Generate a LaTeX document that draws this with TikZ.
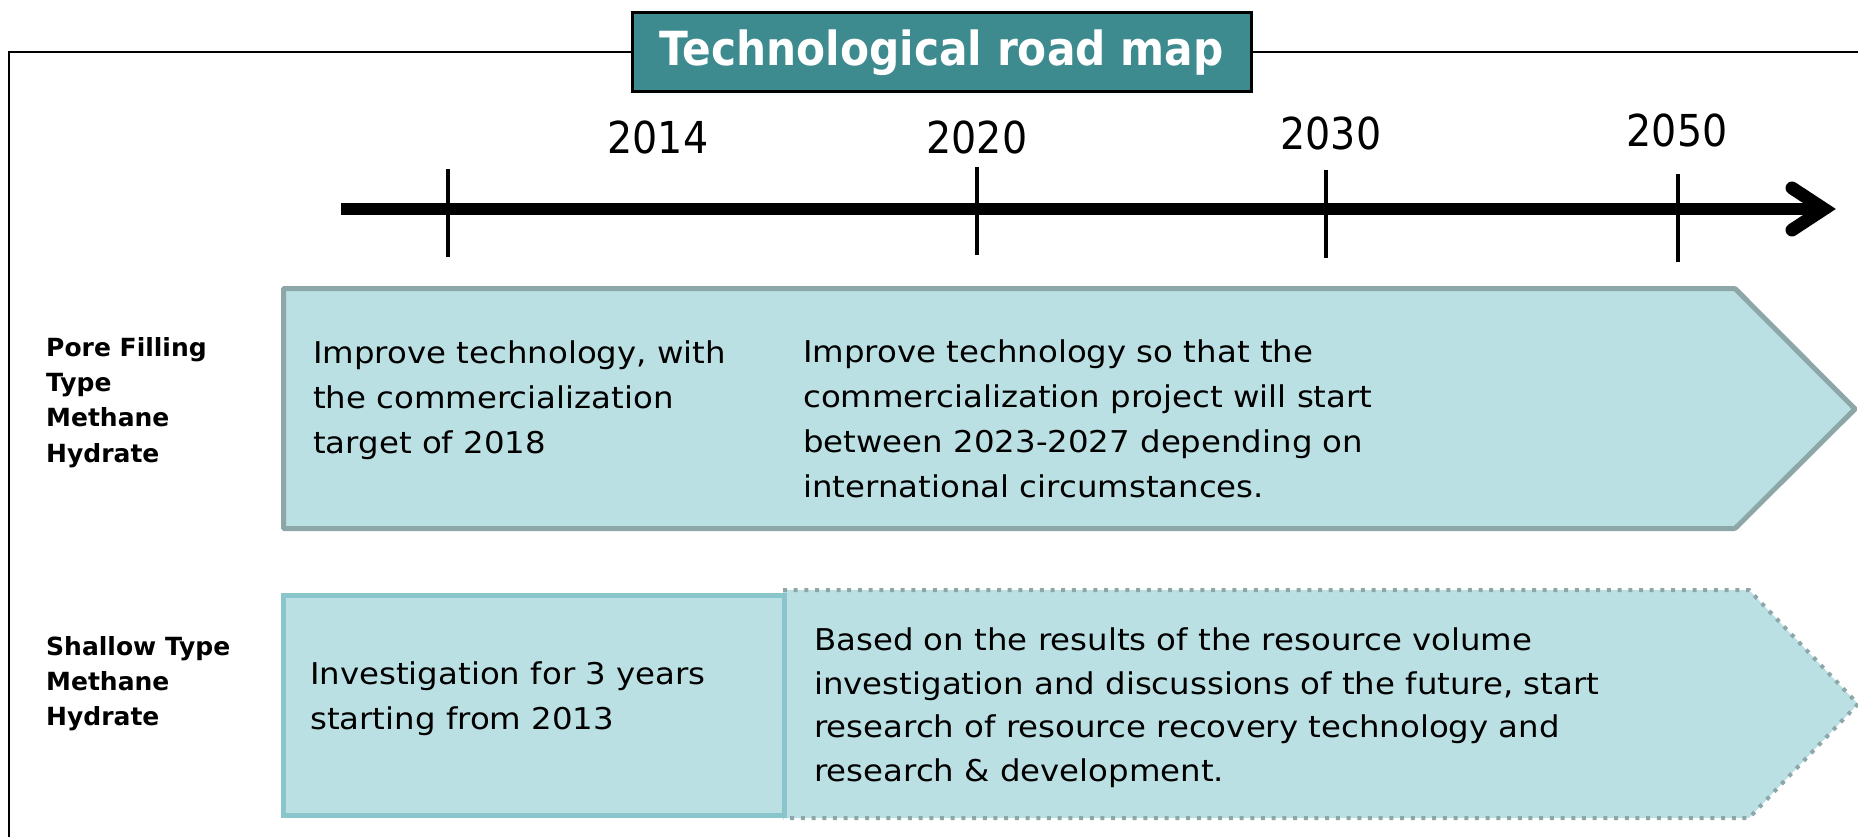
\documentclass[tikz,border=0pt]{standalone}
\usepackage{fontspec}
\setmainfont{DejaVu Sans}
\newfontfamily\wideface[FakeStretch=1.08]{DejaVu Sans}
\newfontfamily\narrowface[FakeStretch=0.9]{DejaVu Sans}
\definecolor{mapfill}{HTML}{BBE0E3}
\definecolor{mapedge}{HTML}{8DA7A9}
\definecolor{boxedge}{HTML}{8BC5CC}
\definecolor{titlefill}{HTML}{3E8B8F}
\newcommand{\bodytext}{\wideface\fontsize{30}{45}\selectfont}
\newcommand{\rowlabel}{\bfseries\fontsize{25}{35.3}\selectfont}

\begin{document}
\begin{tikzpicture}[x=1pt, y=-1pt,
    body/.style={anchor=north west, inner sep=0pt, align=left, font=\bodytext},
    rowname/.style={anchor=north west, inner sep=0pt, align=left, font=\rowlabel},
    yearlabel/.style={inner sep=0pt, font=\narrowface\fontsize{44}{44}\selectfont}]
        \useasboundingbox (0,0) rectangle (1858,837);

        % Frame and title
        \coordinate (frameBL) at (9,837);
        \coordinate (frameTL) at (9,52);
        \coordinate (frameTR) at (1858,52);
        \draw[line width=1.5pt] (frameBL) -- (frameTL) -- (frameTR);
        \node[draw=black, line width=3pt, fill=titlefill, text=white,
              minimum width=619pt, minimum height=79pt, inner sep=0pt,
              font=\narrowface\bfseries\fontsize{47}{47}\selectfont]
              (title) at (941.5,52.5) {Technological road map};

        % --- Time axis ---
        \coordinate (axisL) at (341,209);
        \coordinate (axisR) at (1824,209);
        \draw[line width=12pt] (axisL) -- (axisR);
        \draw[line width=13pt, line cap=round, line join=miter]
            (1792,188) -- (axisR) -- (1792,230);
        \foreach \tx/\ttop/\tbot/\lx/\ly/\yr in
            {448/169/257/658/137/2014, 977/167/255/977/137/2020,
             1326/170/258/1331/133/2030, 1678/174/262/1677/130/2050}{
            \coordinate (tick\yr top) at (\tx,\ttop);
            \coordinate (tick\yr bot) at (\tx,\tbot);
            \draw[line width=4pt] (tick\yr top) -- (tick\yr bot);
            \node[yearlabel] (year\yr) at (\lx,\ly) {\yr};
        }

        % --- Pore filling type ---
        \filldraw[fill=mapfill, draw=mapedge, line width=5pt, rounded corners=1pt]
            (283.5,288.5) -- (1735,288.5) -- (1855,409) -- (1735,528.5)
            -- (283.5,528.5) -- cycle;
        \node[rowname] (poreName) at (46,337) {Pore Filling\\Type\\Methane\\Hydrate};
        \node[body] (poreNow) at (313,341)
            {Improve technology, with\\the commercialization\\target of 2018};
        \node[body] (poreLater) at (803,340)
            {Improve technology so that the\\commercialization project will start\\between 2023-2027 depending on\\international circumstances.};

        % --- Shallow type ---
        \filldraw[fill=mapfill, draw=mapedge, line width=4pt,
                  dash pattern=on 4pt off 6.7pt]
            (783,590) -- (1749,590) -- (1858,704) -- (1749,818) -- (783,818);
        \filldraw[fill=mapfill, draw=boxedge, line width=5pt]
            (283.5,595.5) rectangle (784,815.5);
        \node[rowname] (shallowName) at (46,636) {Shallow Type\\Methane\\Hydrate};
        \node[body] (shallowNow) at (310,662)
            {Investigation for 3 years\\starting from 2013};
        \node[body, font=\wideface\fontsize{30}{43.5}\selectfont] (shallowLater) at (814,628)
            {Based on the results of the resource volume\\investigation and discussions of the future, start\\research of resource recovery technology and\\research \& development.};

    \end{tikzpicture}
\end{document}
